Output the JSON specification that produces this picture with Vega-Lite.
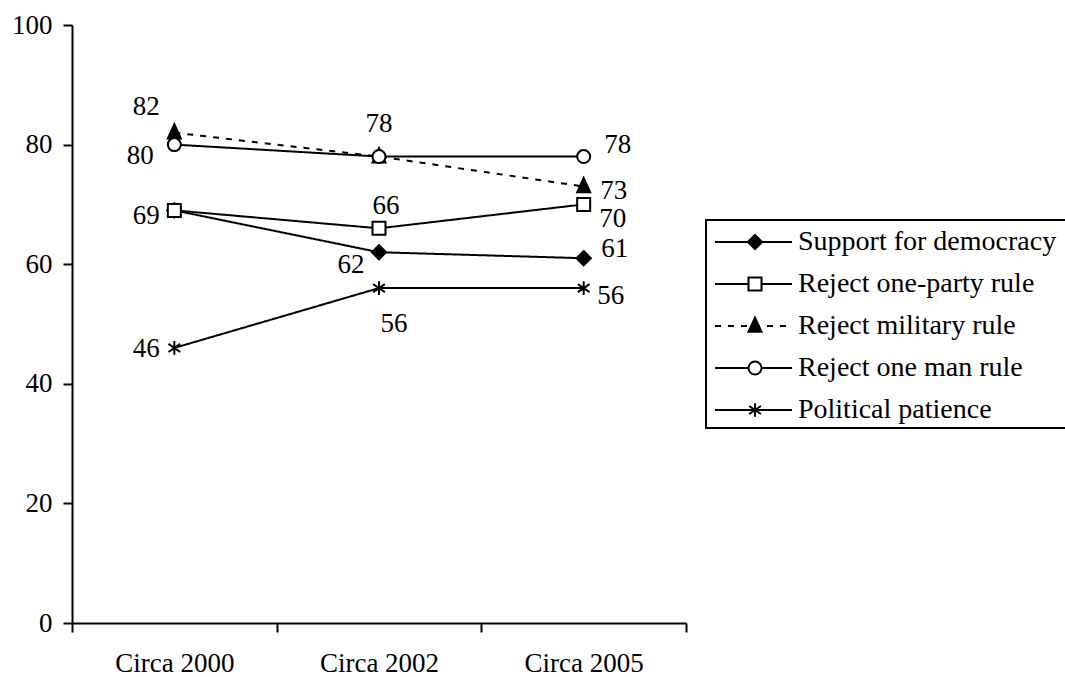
{
  "$schema": "https://vega.github.io/schema/vega-lite/v6.json",
  "autosize": {"type": "none"},
  "width": 614,
  "height": 598,
  "padding": {"left": 72, "top": 25, "right": 379, "bottom": 54},
  "background": "white",
  "config": {
    "font": "Liberation Serif, Times New Roman, DejaVu Serif, serif",
    "view": {"stroke": null},
    "mark": {"color": "black"},
    "text": {"font": "Liberation Serif, Times New Roman, DejaVu Serif, serif", "fontSize": 27, "color": "black"}
  },
  "datasets": {
    "survey": [
      {"series": "Support for democracy", "period": "Circa 2000", "value": 69},
      {"series": "Support for democracy", "period": "Circa 2002", "value": 62},
      {"series": "Support for democracy", "period": "Circa 2005", "value": 61},
      {"series": "Reject one-party rule", "period": "Circa 2000", "value": 69},
      {"series": "Reject one-party rule", "period": "Circa 2002", "value": 66},
      {"series": "Reject one-party rule", "period": "Circa 2005", "value": 70},
      {"series": "Reject military rule", "period": "Circa 2000", "value": 82},
      {"series": "Reject military rule", "period": "Circa 2002", "value": 78},
      {"series": "Reject military rule", "period": "Circa 2005", "value": 73},
      {"series": "Reject one man rule", "period": "Circa 2000", "value": 80},
      {"series": "Reject one man rule", "period": "Circa 2002", "value": 78},
      {"series": "Reject one man rule", "period": "Circa 2005", "value": 78},
      {"series": "Political patience", "period": "Circa 2000", "value": 46},
      {"series": "Political patience", "period": "Circa 2002", "value": 56},
      {"series": "Political patience", "period": "Circa 2005", "value": 56}
    ],
    "legend": [
      {"series": "Support for democracy"},
      {"series": "Reject one-party rule"},
      {"series": "Reject military rule"},
      {"series": "Reject one man rule"},
      {"series": "Political patience"}
    ]
  },
  "resolve": {"scale": {"x": "independent", "y": "independent"}},
  "layer": [
    {
      "data": {"name": "survey"},
      "encoding": {
        "x": {
          "field": "period", "type": "ordinal",
          "scale": {"type": "band", "domain": ["Circa 2000", "Circa 2002", "Circa 2005"], "paddingInner": 0, "paddingOuter": 0},
          "axis": {"title": null, "orient": "bottom", "tickBand": "extent", "labelAngle": 0, "grid": false,
                   "domainColor": "black", "domainWidth": 2, "tickColor": "black", "tickWidth": 2, "tickSize": 9,
                   "labelFont": "Liberation Serif, Times New Roman, DejaVu Serif, serif", "labelFontSize": 27, "labelColor": "black", "labelPadding": 18}
        },
        "y": {
          "field": "value", "type": "quantitative",
          "scale": {"domain": [0, 100], "nice": false, "zero": true},
          "axis": {"title": null, "values": [0, 20, 40, 60, 80, 100], "grid": false,
                   "domainColor": "black", "domainWidth": 2, "tickColor": "black", "tickWidth": 2, "tickSize": 9,
                   "labelFont": "Liberation Serif, Times New Roman, DejaVu Serif, serif", "labelFontSize": 27, "labelColor": "black", "labelPadding": 11}
        }
      },
      "layer": [
        {
          "mark": {"type": "line", "stroke": "black", "strokeWidth": 2},
          "encoding": {
            "strokeDash": {"field": "series", "type": "nominal", "legend": null,
              "scale": {"domain": ["Support for democracy", "Reject one-party rule", "Reject military rule", "Reject one man rule", "Political patience"],
                        "range": [[1, 0], [1, 0], [6, 7], [1, 0], [1, 0]]}}
          }
        },
        {
          "mark": {"type": "point", "filled": true, "stroke": "black", "strokeWidth": 2, "size": 169, "opacity": 1},
          "encoding": {
            "shape": {"field": "series", "type": "nominal", "legend": null,
              "scale": {"domain": ["Support for democracy", "Reject one-party rule", "Reject military rule", "Reject one man rule", "Political patience"],
                        "range": ["M0,-1.1L1.1,0L0,1.1L-1.1,0Z", "M-1,-1H1V1H-1Z", "M0,-1.3L1,0.9H-1Z", "M1,0A1,1 0 1,1 -1,0A1,1 0 1,1 1,0Z", "M0,-1.05V1.05M-0.9,-0.62L0.9,0.62M-0.9,0.62L0.9,-0.62"]}},
            "fill": {"field": "series", "type": "nominal", "legend": null,
              "scale": {"domain": ["Support for democracy", "Reject one-party rule", "Reject military rule", "Reject one man rule", "Political patience"],
                        "range": ["black", "white", "black", "white", "black"]}}
          }
        },
        {"transform": [{"filter": "datum.series === 'Reject military rule' && datum.period === 'Circa 2000'"}],
         "mark": {"type": "text", "dx": -28, "dy": -26}, "encoding": {"text": {"field": "value", "type": "quantitative"}}},
        {"transform": [{"filter": "datum.series === 'Reject one man rule' && datum.period === 'Circa 2000'"}],
         "mark": {"type": "text", "dx": -34, "dy": 11}, "encoding": {"text": {"field": "value", "type": "quantitative"}}},
        {"transform": [{"filter": "datum.series === 'Reject one-party rule' && datum.period === 'Circa 2000'"}],
         "mark": {"type": "text", "dx": -28, "dy": 6}, "encoding": {"text": {"field": "value", "type": "quantitative"}}},
        {"transform": [{"filter": "datum.series === 'Political patience' && datum.period === 'Circa 2000'"}],
         "mark": {"type": "text", "dx": -28, "dy": 1}, "encoding": {"text": {"field": "value", "type": "quantitative"}}},
        {"transform": [{"filter": "datum.series === 'Reject one man rule' && datum.period === 'Circa 2002'"}],
         "mark": {"type": "text", "dx": 0, "dy": -33}, "encoding": {"text": {"field": "value", "type": "quantitative"}}},
        {"transform": [{"filter": "datum.series === 'Reject one-party rule' && datum.period === 'Circa 2002'"}],
         "mark": {"type": "text", "dx": 7, "dy": -22}, "encoding": {"text": {"field": "value", "type": "quantitative"}}},
        {"transform": [{"filter": "datum.series === 'Support for democracy' && datum.period === 'Circa 2002'"}],
         "mark": {"type": "text", "dx": -28, "dy": 13}, "encoding": {"text": {"field": "value", "type": "quantitative"}}},
        {"transform": [{"filter": "datum.series === 'Political patience' && datum.period === 'Circa 2002'"}],
         "mark": {"type": "text", "dx": 15, "dy": 36}, "encoding": {"text": {"field": "value", "type": "quantitative"}}},
        {"transform": [{"filter": "datum.series === 'Reject one man rule' && datum.period === 'Circa 2005'"}],
         "mark": {"type": "text", "dx": 34, "dy": -12}, "encoding": {"text": {"field": "value", "type": "quantitative"}}},
        {"transform": [{"filter": "datum.series === 'Reject military rule' && datum.period === 'Circa 2005'"}],
         "mark": {"type": "text", "dx": 30, "dy": 5}, "encoding": {"text": {"field": "value", "type": "quantitative"}}},
        {"transform": [{"filter": "datum.series === 'Reject one-party rule' && datum.period === 'Circa 2005'"}],
         "mark": {"type": "text", "dx": 29, "dy": 15}, "encoding": {"text": {"field": "value", "type": "quantitative"}}},
        {"transform": [{"filter": "datum.series === 'Support for democracy' && datum.period === 'Circa 2005'"}],
         "mark": {"type": "text", "dx": 31, "dy": -9}, "encoding": {"text": {"field": "value", "type": "quantitative"}}},
        {"transform": [{"filter": "datum.series === 'Political patience' && datum.period === 'Circa 2005'"}],
         "mark": {"type": "text", "dx": 27, "dy": 8}, "encoding": {"text": {"field": "value", "type": "quantitative"}}}
      ]
    },
    {
      "data": {"name": "legend"},
      "encoding": {
        "y": {"field": "series", "type": "nominal", "axis": null,
              "scale": {"type": "point", "domain": ["Support for democracy", "Reject one-party rule", "Reject military rule", "Reject one man rule", "Political patience"],
                        "range": [217, 385], "padding": 0}}
      },
      "layer": [
        {
          "data": {"values": [{"box": "legend"}]},
          "mark": {"type": "rect", "filled": false, "stroke": "black", "strokeWidth": 2, "yOffset": -22, "y2Offset": 18},
          "encoding": {
            "x": {"datum": 1.0326, "type": "quantitative", "scale": {"domain": [0, 1], "nice": false, "zero": false}, "axis": null},
            "x2": {"datum": 1.8},
            "y": {"datum": "Support for democracy", "type": "nominal"},
            "y2": {"datum": "Political patience"}
          }
        },
        {
          "mark": {"type": "rule", "stroke": "black", "strokeWidth": 2},
          "encoding": {
            "x": {"datum": 1.0472, "type": "quantitative"},
            "x2": {"datum": 1.1726},
            "strokeDash": {"field": "series", "type": "nominal", "legend": null,
              "scale": {"domain": ["Support for democracy", "Reject one-party rule", "Reject military rule", "Reject one man rule", "Political patience"],
                        "range": [[1, 0], [1, 0], [6, 7], [1, 0], [1, 0]]}}
          }
        },
        {
          "mark": {"type": "point", "filled": true, "stroke": "black", "strokeWidth": 2, "size": 169, "opacity": 1},
          "encoding": {
            "x": {"datum": 1.1124, "type": "quantitative"},
            "shape": {"field": "series", "type": "nominal", "legend": null,
              "scale": {"domain": ["Support for democracy", "Reject one-party rule", "Reject military rule", "Reject one man rule", "Political patience"],
                        "range": ["M0,-1.1L1.1,0L0,1.1L-1.1,0Z", "M-1,-1H1V1H-1Z", "M0,-1.3L1,0.9H-1Z", "M1,0A1,1 0 1,1 -1,0A1,1 0 1,1 1,0Z", "M0,-1.05V1.05M-0.9,-0.62L0.9,0.62M-0.9,0.62L0.9,-0.62"]}},
            "fill": {"field": "series", "type": "nominal", "legend": null,
              "scale": {"domain": ["Support for democracy", "Reject one-party rule", "Reject military rule", "Reject one man rule", "Political patience"],
                        "range": ["black", "white", "black", "white", "black"]}}
          }
        },
        {
          "mark": {"type": "text", "align": "left", "baseline": "middle", "fontSize": 28},
          "encoding": {
            "x": {"datum": 1.1824, "type": "quantitative"},
            "text": {"field": "series", "type": "nominal"}
          }
        }
      ]
    }
  ]
}
